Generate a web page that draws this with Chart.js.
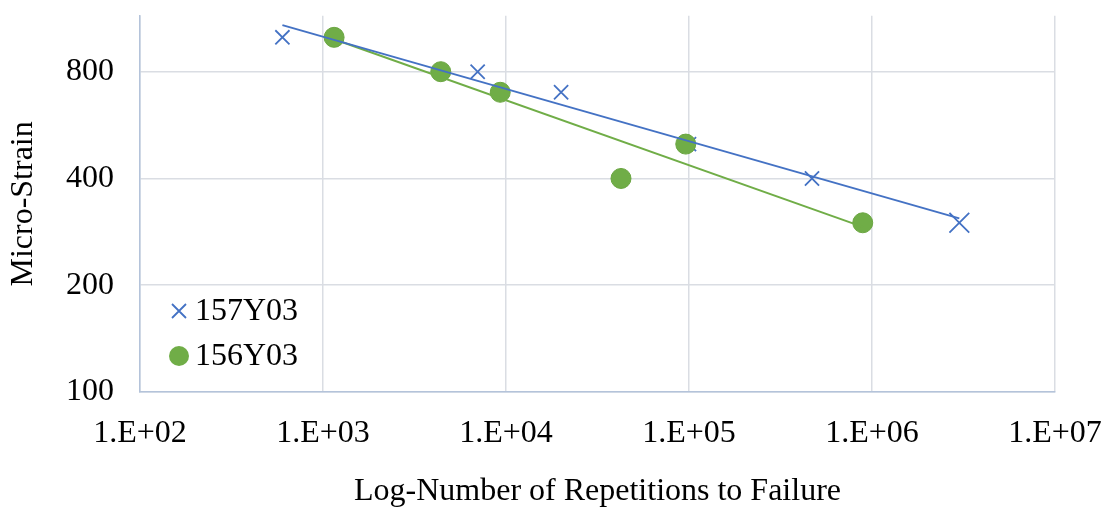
<!DOCTYPE html>
<html>
<head>
<meta charset="utf-8">
<script src="https://cdn.jsdelivr.net/npm/chart.js@4.4.1/dist/chart.umd.min.js"></script>
<style>
  html, body { margin: 0; padding: 0; background: #fff; }
  #wrap { width: 1106px; height: 508px; }
</style>
</head>
<body>
<div id="wrap"><canvas id="chart"></canvas></div>
<script>
// values
const seriesNames = ["157Y03", "156Y03"];
const reps157 = [600, 7000, 20000, 100000, 470000, 3000000];
const strain157 = [1000, 800, 700, 500, 400, 300];
const reps156 = [1150, 4400, 9300, 96000, 42500, 890000];
const strain156 = [1000, 800, 700, 500, 400, 300];
const xTicks = [1e2, 1e3, 1e4, 1e5, 1e6, 1e7];
const yTicks = [100, 200, 400, 800];

const FONT = "'Liberation Serif', 'Times New Roman', serif";
const BLUE = "#4472C4";
const GREEN = "#70AD47";

function toPoints(xs, ys) {
  return xs.map((x, i) => ({ x: x, y: ys[i] }));
}

// power trendline (least squares in log-log), like Excel
function powerTrend(xs, ys) {
  const lx = xs.map(Math.log), ly = ys.map(Math.log);
  const n = xs.length;
  const mx = lx.reduce((a, b) => a + b, 0) / n;
  const my = ly.reduce((a, b) => a + b, 0) / n;
  let sxy = 0, sxx = 0;
  for (let i = 0; i < n; i++) {
    sxy += (lx[i] - mx) * (ly[i] - my);
    sxx += (lx[i] - mx) * (lx[i] - mx);
  }
  const b = sxy / sxx, a = my - b * mx;
  const x0 = Math.min(...xs), x1 = Math.max(...xs);
  return [x0, x1].map(x => ({ x: x, y: Math.exp(a + b * Math.log(x)) }));
}

function noPad(s) {
  s.paddingTop = 0; s.paddingBottom = 0;
  s.paddingLeft = 0; s.paddingRight = 0;
}

const legendPlugin = {
  id: "insideLegend",
  afterDraw(chart) {
    const ctx = chart.ctx;
    ctx.save();
    // cross marker
    ctx.strokeStyle = BLUE;
    ctx.lineWidth = 1.8;
    ctx.beginPath();
    ctx.moveTo(172, 304); ctx.lineTo(186, 318);
    ctx.moveTo(186, 304); ctx.lineTo(172, 318);
    ctx.stroke();
    // circle marker
    ctx.fillStyle = GREEN;
    ctx.beginPath();
    ctx.arc(179, 356, 10, 0, Math.PI * 2);
    ctx.fill();
    ctx.fillStyle = "#000";
    ctx.font = "32px " + FONT;
    ctx.textBaseline = "middle";
    ctx.fillText(seriesNames[0], 195, 312);
    ctx.fillText(seriesNames[1], 195, 357);
    ctx.restore();
  }
};

new Chart(document.getElementById("chart"), {
  type: "scatter",
  data: {
    datasets: [
      {
        label: seriesNames[0] + " trend",
        data: powerTrend(reps157, strain157),
        showLine: true, borderColor: BLUE, borderWidth: 2,
        pointRadius: 0, order: 0
      },
      {
        label: seriesNames[1] + " trend",
        data: powerTrend(reps156, strain156),
        showLine: true, borderColor: GREEN, borderWidth: 2,
        pointRadius: 0, order: 1
      },
      {
        label: seriesNames[1],
        data: toPoints(reps156, strain156),
        pointStyle: "circle", pointRadius: 10,
        backgroundColor: GREEN, borderColor: "#6AA541", borderWidth: 1,
        order: 2
      },
      {
        label: seriesNames[0],
        data: toPoints(reps157, strain157),
        pointStyle: "crossRot",
        pointRadius: c => (c.dataIndex === reps157.length - 1 ? 14 : 10),
        borderColor: BLUE, borderWidth: 1.8,
        order: 3
      }
    ]
  },
  options: {
    responsive: true,
    maintainAspectRatio: false,
    animation: false,
    layout: { padding: { top: 1, right: 51, left: 0, bottom: 0 } },
    plugins: { legend: { display: false }, tooltip: { enabled: false } },
    scales: {
      x: {
        type: "logarithmic",
        min: 100, max: 1e7,
        afterBuildTicks: s => { s.ticks = xTicks.map(v => ({ value: v })); },
        afterFit: s => { s.height = 116; noPad(s); },
        grid: { color: "#DADDE3", lineWidth: 1.5, drawTicks: false },
        border: { color: "#B4C3DA", width: 1.5 },
        ticks: {
          color: "#000", padding: 22,
          font: { family: FONT, size: 32 },
          maxRotation: 0, autoSkip: false,
          callback: v => "1.E+" + String(Math.round(Math.log10(v))).padStart(2, "0")
        },
        title: {
          display: true, text: "Log-Number of Repetitions to Failure",
          color: "#000", font: { family: FONT, size: 32, lineHeight: 1.05 },
          padding: { top: 29, bottom: 0 }
        }
      },
      y: {
        type: "logarithmic",
        min: 100, max: 1150,
        afterBuildTicks: s => { s.ticks = yTicks.map(v => ({ value: v })); },
        afterFit: s => { s.width = 140; noPad(s); },
        grid: { color: "#DADDE3", lineWidth: 1.5, drawTicks: false },
        border: { color: "#B4C3DA", width: 1.5 },
        ticks: {
          color: "#000", padding: 26,
          font: { family: FONT, size: 32 },
          autoSkip: false,
          callback: v => String(v)
        },
        title: {
          display: true, text: "Micro-Strain",
          color: "#000", font: { family: FONT, size: 32 },
          padding: { bottom: 0 }
        }
      }
    }
  },
  plugins: [legendPlugin]
});
</script>
</body>
</html>
